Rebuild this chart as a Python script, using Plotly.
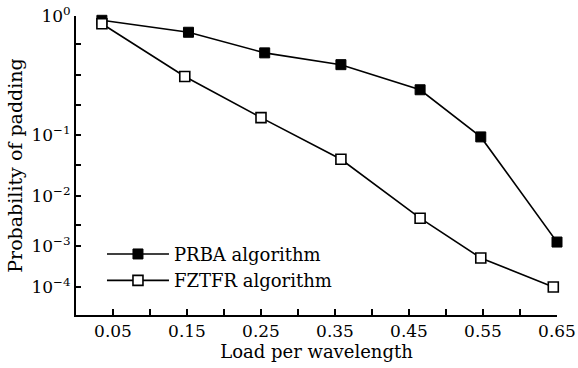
import numpy as np
import plotly.graph_objects as go

# ---- data ----
load_prba = [0.035, 0.152, 0.255, 0.358, 0.465, 0.547, 0.650]
prba = [0.92, 0.73, 0.49, 0.39, 0.24, 0.093, 1.2e-3]

load_fztfr = [0.035, 0.147, 0.250, 0.358, 0.465, 0.547, 0.645]
fztfr = [0.86, 0.31, 0.14, 0.040, 3.6e-3, 5.1e-4, 9.5e-5]

x_ticks = [0.05, 0.10, 0.15, 0.20, 0.25, 0.30, 0.35, 0.40, 0.45, 0.50, 0.55, 0.60, 0.65]
x_labels = ["0.05", "", "0.15", "", "0.25", "", "0.35", "", "0.45", "", "0.55", "", "0.65"]

# the figure's y axis is a broken (piecewise) log scale
decade_logs = [0, -1, -2, -3, -4]
decade_pos = [0, -119, -180, -230, -271]
y_tick_pos = [0, -28, -59, -89, -119, -149, -180, -209, -230, -271]
y_tick_text = ["10<sup>0</sup>", "", "", "", "10<sup>−1</sup>", "", "10<sup>−2</sup>", "",
               "10<sup>−3</sup>", "10<sup>−4</sup>"]


def ymap(v):
    lv = np.log10(np.asarray(v, dtype=float))
    return np.interp(lv, decade_logs[::-1], decade_pos[::-1])


FONT = "DejaVu Serif"
FS = 17

fig = go.Figure()
fig.add_trace(go.Scatter(
    x=load_prba, y=ymap(prba), mode="lines+markers", name="PRBA algorithm",
    line=dict(color="black", width=1.6),
    marker=dict(symbol="square", size=10, color="black", line=dict(color="black", width=1)),
    cliponaxis=False,
))
fig.add_trace(go.Scatter(
    x=load_fztfr, y=ymap(fztfr), mode="lines+markers", name="FZTFR algorithm",
    line=dict(color="black", width=1.6),
    marker=dict(symbol="square", size=10, color="white", line=dict(color="black", width=1.6)),
    cliponaxis=False,
))

fig.update_layout(
    width=578, height=368,
    margin=dict(l=76, r=21, t=16, b=53),
    paper_bgcolor="white", plot_bgcolor="white",
    font=dict(family=FONT, size=FS, color="black"),
    showlegend=True,
    legend=dict(x=0.054, y=0.265, xanchor="left", yanchor="top",
                bgcolor="rgba(0,0,0,0)", font=dict(family=FONT, size=18),
                itemwidth=62, tracegroupgap=0),
)
fig.update_xaxes(
    range=[0, 0.65], tickvals=x_ticks, ticktext=x_labels, automargin=False,
    showline=True, linecolor="black", linewidth=2,
    ticks="inside", ticklen=6, tickwidth=1.5, tickcolor="black",
    showgrid=False, zeroline=False,
    title=dict(text="Load per wavelength", font=dict(family=FONT, size=18), standoff=4),
    tickfont=dict(family=FONT, size=FS),
)
fig.update_yaxes(
    range=[-299, 0], tickvals=y_tick_pos, ticktext=y_tick_text, automargin=False,
    showline=True, linecolor="black", linewidth=2,
    ticks="inside", ticklen=5, tickwidth=1.5, tickcolor="black",
    showgrid=False, zeroline=False,
    title=dict(text="Probability of padding", font=dict(family=FONT, size=19), standoff=4),
    tickfont=dict(family=FONT, size=FS),
)

fig.write_html("out.html", config={"displayModeBar": False},
               post_script="document.body.style.margin='0';document.body.style.padding='0';")
